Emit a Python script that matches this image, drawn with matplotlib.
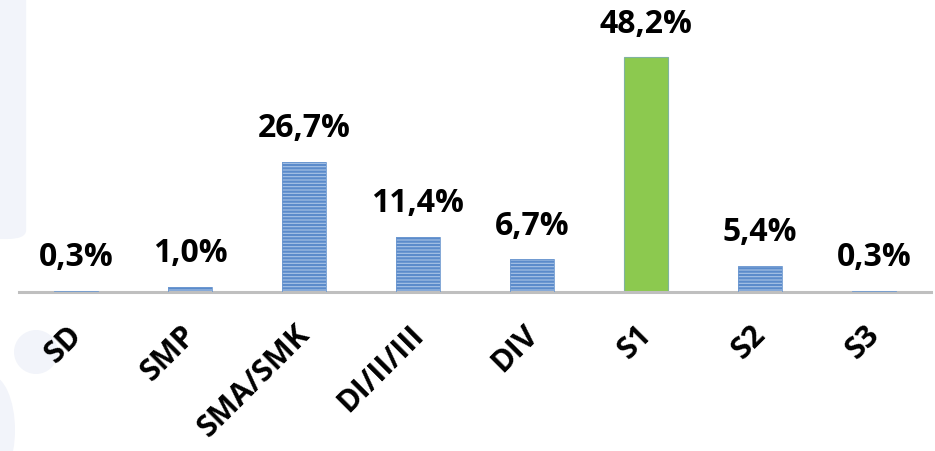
import matplotlib
matplotlib.use("Agg")
import matplotlib.pyplot as plt
import matplotlib.transforms as mtransforms
from matplotlib.patches import FancyBboxPatch, Ellipse
import numpy as np

categories = ["SD", "SMP", "SMA/SMK", "DI/II/III", "DIV", "S1", "S2", "S3"]
values = [0.3, 1.0, 26.7, 11.4, 6.7, 48.2, 5.4, 0.3]
labels = ["0,3%", "1,0%", "26,7%", "11,4%", "6,7%", "48,2%", "5,4%", "0,3%"]
highlight = "S1"

FONT = ["Open Sans", "DejaVu Sans"]

W, H = 935, 451
fig = plt.figure(figsize=(W / 100, H / 100), dpi=100)
fig.patch.set_facecolor("white")

# faint decorative background shapes
bg = "#F2F4FA"
fig.patches.append(FancyBboxPatch((-0.05, 0.47), 0.078, 0.6, boxstyle="round,pad=0,rounding_size=0.02",
                                  transform=fig.transFigure, facecolor=bg, edgecolor="none", zorder=-1))
fig.patches.append(Ellipse((36 / W, 1 - 352 / H), 44 / W, 44 / H, transform=fig.transFigure,
                           facecolor=bg, edgecolor="none", zorder=-1))
fig.patches.append(Ellipse((-10 / W, 1 - 430 / H), 50 / W, 110 / H, transform=fig.transFigure,
                           facecolor=bg, edgecolor="none", zorder=-1))

ax = fig.add_axes([19 / W, 1 - 292 / H, 912 / W, 292 / H])
ax.set_facecolor("none")
x = np.arange(len(categories))

plt.rcParams["hatch.linewidth"] = 1.6
for xi, v, c in zip(x, values, categories):
    if c == highlight:
        ax.bar(xi, v, width=0.385, color="#8CC94F", edgecolor="#7FB3A0", linewidth=0.8, zorder=2)
    else:
        ax.bar(xi, v, width=0.385, color="#A9C4E6", edgecolor="#5B8BCB", hatch="-----",
               linewidth=0, zorder=2)
        ax.bar(xi, v, width=0.385, color="none", edgecolor="#6E99D0", linewidth=0.6, zorder=3)

for xi, v, lab in zip(x, values, labels):
    ax.annotate(lab, (xi, v), xytext=(0, 12), textcoords="offset points", ha="center", va="bottom",
                fontsize=23, fontweight="bold", family=FONT, color="black")

ax.set_xlim(-0.5, len(categories) - 0.5)
ax.set_ylim(0, 60)
for s in ["top", "right", "left"]:
    ax.spines[s].set_visible(False)
ax.spines["bottom"].set_color("#BFBFBF")
ax.spines["bottom"].set_linewidth(2.2)
ax.set_yticks([])
ax.set_xticks(x)
ax.set_xticklabels(categories, rotation=45, ha="right", va="top", fontsize=22,
                   fontweight="bold", family=FONT)
ax.tick_params(axis="x", length=0, pad=20)
offset = mtransforms.ScaledTranslation(12 / 100, 0, fig.dpi_scale_trans)
for t in ax.get_xticklabels():
    t.set_transform(t.get_transform() + offset)

fig.savefig("out.png", dpi=100, facecolor="white")
